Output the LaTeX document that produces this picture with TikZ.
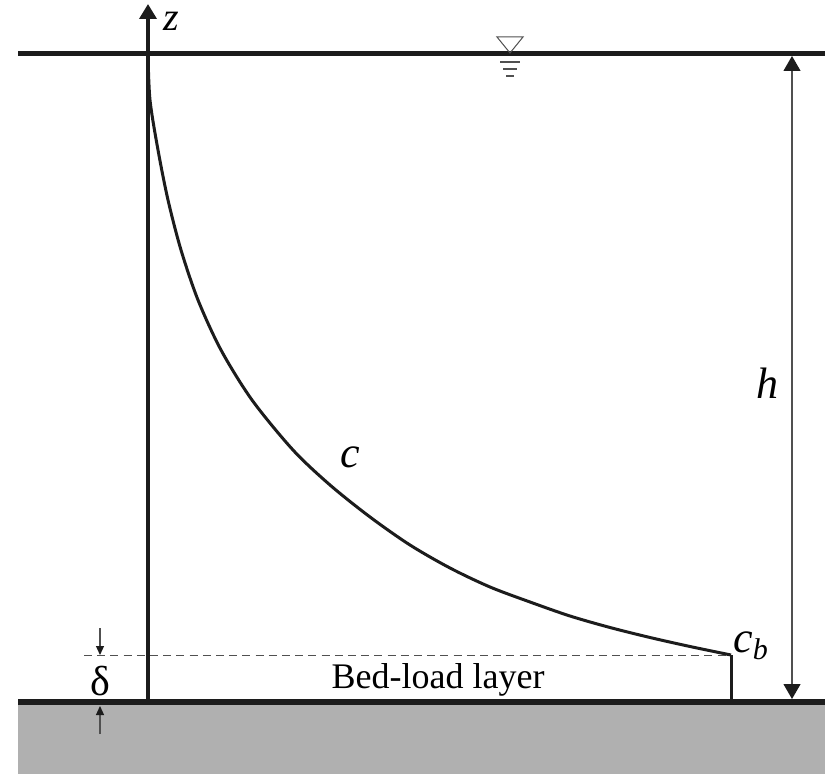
\documentclass[tikz,border=0pt]{standalone}
\usepackage{fontspec}
\setmainfont{LiberationSerif}[Extension=.ttf, UprightFont=*-Regular, ItalicFont=*-Italic, BoldFont=*-Bold]
\usetikzlibrary{arrows.meta}
\definecolor{bedgray}{RGB}{176,176,176}
\definecolor{ink}{RGB}{28,28,28}
\definecolor{thin}{RGB}{80,80,80}
\tikzset{
  bigtip/.tip={Triangle[width=8.5pt,length=7.5pt,color=ink,fill=ink]},
  smalltip/.tip={Triangle[width=4pt,length=4.5pt,color=ink,fill=ink]}
}
\begin{document}
\begin{tikzpicture}[x=0.5pt,y=-0.5pt,
  surface/.style={line width=2.5pt, draw=ink},
  bedline/.style={line width=3.3pt, draw=ink},
  axisline/.style={line width=1.8pt, draw=ink},
  profile/.style={line width=1.5pt, draw=ink},
  dimline/.style={line width=0.6pt, draw=thin},
  dashline/.style={line width=0.5pt, draw=thin, dash pattern=on 4pt off 2.6pt},
  symlbl/.style={font=\fontsize{22}{24}\selectfont\itshape, inner sep=0pt},
  txtlbl/.style={font=\fontsize{18}{20}\selectfont, inner sep=0pt}]
\useasboundingbox (0,0) rectangle (834,774);
% bed
\fill[bedgray] (18,702) rectangle (825,774);
% coordinates
\coordinate (sL) at (18,54);
\coordinate (sR) at (825,54);
\coordinate (bL) at (18,702);
\coordinate (bR) at (825,702);
\coordinate (O) at (148,702);
\coordinate (zTip) at (148,4);
\coordinate (top) at (148,54);
\coordinate (cbPt) at (731,655);
\coordinate (cbFoot) at (731,702);
\coordinate (dL) at (84,655);
\coordinate (hTop) at (792,56);
\coordinate (hBot) at (792,699);
\coordinate (d1s) at (100,628);
\coordinate (d1e) at (100,655);
\coordinate (d2s) at (100,734);
\coordinate (d2e) at (100,706);
% dashed bed-load layer top
\draw[dashline] (dL) -- (cbPt);
% water surface and bed
\draw[surface] (sL) -- (sR);
\draw[bedline] (bL) -- (bR);
% z axis
\draw[axisline, -{Triangle[width=8.5pt,length=7.5pt]}] (O) -- (zTip);
\node[symlbl, font=\fontsize{20}{22}\selectfont\itshape] (zl) at (171,21) {z};
% concentration profile
\draw[profile, line join=round] plot[smooth, tension=0.5] coordinates {
 (top) (150,100) (158,150) (168,200) (181,250) (198,300) (221,350) (252,400)
 (293,450) (330,485) (370,517) (410,545) (450,568) (490,587) (530,602)
 (570,616) (610,627.5) (650,637.5) (690,646.5) (cbPt)};
\draw[profile] (cbPt) -- (cbFoot);
\node[symlbl] (cl) at (350,457) {c};
\node[symlbl, anchor=base west] (cbl) at (733,652) {c\raisebox{-0.35ex}{\fontsize{15}{16}\selectfont b}};
% h dimension
\draw[dimline, {bigtip}-{bigtip}] (hTop) -- (hBot);
\node[symlbl] (hl) at (767,383) {h};
% delta dimension
\draw[dimline, -{smalltip}] (d1s) -- (d1e);
\draw[dimline, -{smalltip}] (d2s) -- (d2e);
\node[font=\fontsize{21}{23}\selectfont, inner sep=0pt] (dl) at (100,681) {δ};
\node[txtlbl] (bll) at (438,680) {Bed-load layer};
% water level symbol
\draw[line width=0.5pt, draw=thin] (497,37) -- (523,37) -- (510,53) -- cycle;
\draw[line width=0.6pt, draw=thin] (500,62) -- (520,62);
\draw[line width=0.6pt, draw=thin] (503,69) -- (517,69);
\draw[line width=0.6pt, draw=thin] (506,76) -- (514,76);
\end{tikzpicture}
\end{document}
